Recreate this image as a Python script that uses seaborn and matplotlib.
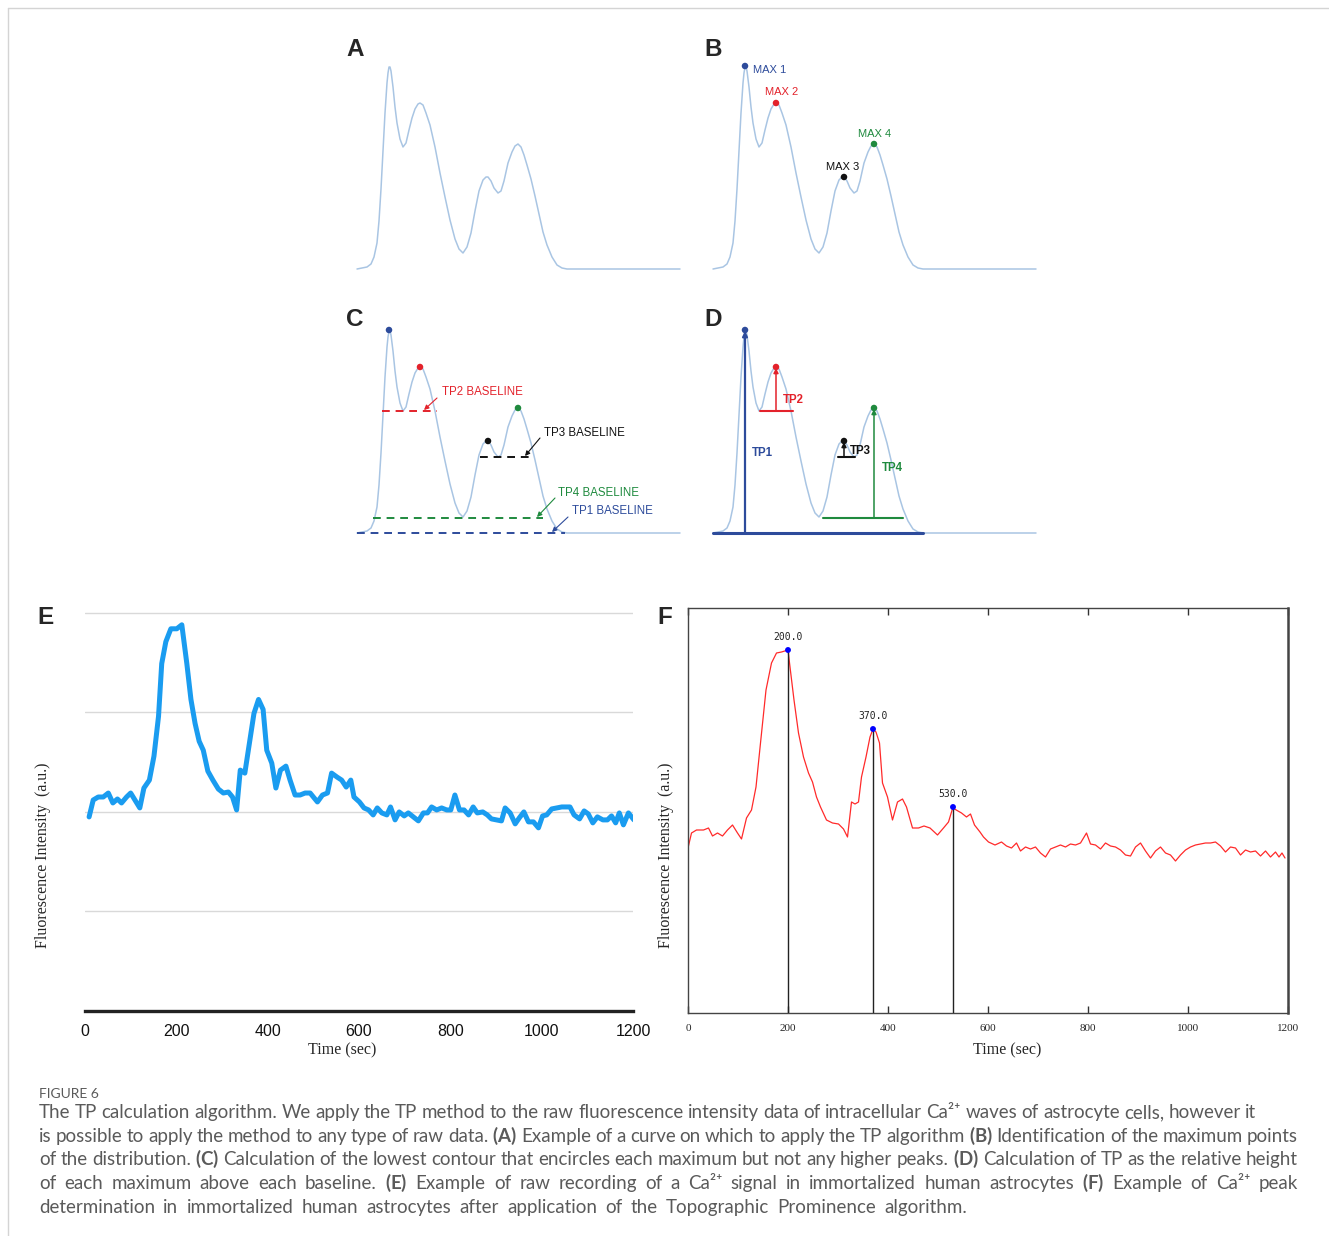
import matplotlib
matplotlib.use("Agg")
import matplotlib.pyplot as plt
from matplotlib.lines import Line2D
import seaborn as sns

# ---------------- data ----------------
# schematic curve of panels A-D (x offset and height in drawing units)
curve_x = [0, 10, 14, 17, 20, 22, 24, 26, 28, 30, 31, 32, 33, 34, 36, 38, 40, 43, 46, 49,
           52, 55, 58, 61, 63, 66, 69, 73, 78, 83, 88, 93, 98, 102, 106, 110, 114, 118, 122, 126,
           129, 131, 134, 137, 141, 144, 147, 151, 155, 158, 161, 164, 167, 170, 174, 178, 182, 186, 190, 195,
           200, 205, 210, 323]
curve_h = [0, 2, 5, 12, 26, 48, 80, 118, 156, 186, 196, 202, 202, 198, 182, 162, 146, 130, 122, 126,
           139, 151, 160, 165, 166, 164, 156, 144, 122, 96, 72, 49, 30, 20, 16, 22, 36, 58, 78, 89,
           92, 92, 88, 81, 76, 78, 88, 106, 117, 123, 125, 122, 114, 104, 90, 73, 55, 37, 24, 12,
           4, 1, 0, 0]

max_x = [32, 63, 131, 161]
max_h = [203, 166, 92, 125]
max_labels = ["MAX 1", "MAX 2", "MAX 3", "MAX 4"]
tp_labels = ["TP1", "TP2", "TP3", "TP4"]
base_labels = ["TP1 BASELINE", "TP2 BASELINE", "TP3 BASELINE", "TP4 BASELINE"]

# baselines (height, start, end) for panel C and the TP bars of panel D
base_h = [0, 122, 76, 15]
base_c_x0 = [0, 25, 123, 16]
base_c_x1 = [208, 80, 175, 186]
base_d_x0 = [0, 47, 125, 110]
base_d_x1 = [210, 80, 142, 190]

# panel E: raw recording
e_time = [9, 18, 29, 40, 51, 61, 71, 80, 91, 100, 112, 120, 129, 141, 151, 161, 168, 177, 188, 201,
          212, 223, 232, 241, 250, 259, 269, 280, 292, 303, 314, 323, 332, 340, 350, 361, 370, 380, 390, 398,
          409, 418, 428, 440, 449, 460, 471, 482, 493, 509, 520, 531, 540, 552, 562, 572, 582, 589, 601, 611,
          621, 631, 640, 650, 661, 669, 679, 688, 699, 708, 719, 730, 741, 750, 759, 770, 781, 792, 801, 810,
          820, 830, 840, 850, 859, 871, 881, 890, 901, 912, 920, 931, 942, 951, 961, 971, 982, 993, 1002, 1011,
          1022, 1033, 1044, 1055, 1062, 1071, 1083, 1093, 1102, 1112, 1122, 1134, 1144, 1153, 1162, 1170, 1179, 1190, 1202]
e_val = [1.95, 2.12, 2.15, 2.15, 2.19, 2.09, 2.13, 2.09, 2.15, 2.19, 2.10, 2.04, 2.24, 2.32, 2.56, 2.96, 3.49, 3.71, 3.84, 3.84,
         3.88, 3.49, 3.13, 2.89, 2.71, 2.62, 2.41, 2.32, 2.23, 2.19, 2.20, 2.15, 2.02, 2.42, 2.39, 2.72, 2.99, 3.13, 3.03, 2.62,
         2.49, 2.24, 2.42, 2.46, 2.32, 2.17, 2.17, 2.19, 2.19, 2.10, 2.17, 2.19, 2.39, 2.35, 2.32, 2.25, 2.32, 2.15, 2.10, 2.04,
         2.02, 1.97, 2.04, 1.99, 1.97, 2.05, 1.92, 2.00, 1.96, 1.99, 1.95, 1.91, 1.99, 1.99, 2.05, 2.02, 2.04, 2.02, 2.02, 2.17,
         2.02, 2.02, 1.97, 2.05, 1.99, 2.00, 1.97, 1.93, 1.92, 1.91, 2.04, 1.99, 1.88, 1.94, 2.00, 1.90, 1.90, 1.84, 1.96, 1.97,
         2.03, 2.04, 2.05, 2.05, 2.05, 1.97, 1.93, 2.01, 1.98, 1.89, 1.95, 1.92, 1.92, 1.96, 1.89, 1.99, 1.87, 1.99, 1.92]

# panel F: same kind of trace after peak detection
f_time = [0, 7, 17, 31, 41, 49, 59, 69, 79, 89, 99, 107, 117, 127, 136, 145, 156, 167, 177, 187,
          200, 204, 212, 221, 231, 241, 249, 257, 265, 277, 289, 301, 311, 319, 327, 334, 341, 347, 356, 364,
          370, 376, 383, 389, 399, 409, 419, 429, 437, 449, 461, 472, 484, 499, 511, 521, 530, 533, 547, 557,
          565, 573, 584, 591, 601, 614, 627, 637, 647, 657, 665, 675, 685, 695, 705, 715, 725, 735, 745, 755,
          765, 775, 785, 797, 805, 815, 825, 835, 845, 855, 865, 875, 885, 895, 905, 915, 925, 935, 945, 955,
          965, 975, 985, 995, 1005, 1015, 1025, 1035, 1045, 1055, 1065, 1075, 1085, 1095, 1105, 1115, 1125, 1135, 1145, 1155,
          1165, 1175, 1182, 1188, 1194]
f_val = [1.65, 1.80, 1.83, 1.83, 1.85, 1.77, 1.80, 1.77, 1.83, 1.88, 1.80, 1.74, 1.95, 2.03, 2.26, 2.70, 3.23, 3.50, 3.60, 3.61,
         3.63, 3.46, 3.13, 2.80, 2.56, 2.40, 2.31, 2.16, 2.06, 1.93, 1.90, 1.89, 1.84, 1.76, 2.11, 2.09, 2.11, 2.36, 2.56, 2.76,
         2.84, 2.81, 2.70, 2.30, 2.16, 1.93, 2.11, 2.14, 2.06, 1.85, 1.85, 1.87, 1.85, 1.78, 1.85, 1.91, 2.06, 2.04, 2.00, 1.96,
         1.99, 1.88, 1.81, 1.76, 1.71, 1.68, 1.71, 1.67, 1.65, 1.70, 1.62, 1.66, 1.64, 1.66, 1.60, 1.56, 1.64, 1.66, 1.68, 1.66,
         1.69, 1.68, 1.70, 1.80, 1.69, 1.68, 1.64, 1.70, 1.67, 1.66, 1.63, 1.58, 1.57, 1.66, 1.70, 1.62, 1.55, 1.62, 1.66, 1.60,
         1.58, 1.52, 1.58, 1.63, 1.66, 1.68, 1.69, 1.70, 1.70, 1.71, 1.67, 1.61, 1.66, 1.65, 1.58, 1.63, 1.61, 1.62, 1.57, 1.62,
         1.56, 1.61, 1.56, 1.60, 1.55]
peak_times = [200, 370, 530]
time_ticks = [0, 200, 400, 600, 800, 1000, 1200]

caption_head = "FIGURE 6"
caption_lines = [
    "The TP calculation algorithm. We apply the TP method to the raw fluorescence intensity data of intracellular Ca²⁺ waves of astrocyte cells, however it",
    "is possible to apply the method to any type of raw data. $\\mathbf{(A)}$ Example of a curve on which to apply the TP algorithm $\\mathbf{(B)}$ Identification of the maximum points",
    "of the distribution. $\\mathbf{(C)}$ Calculation of the lowest contour that encircles each maximum but not any higher peaks. $\\mathbf{(D)}$ Calculation of TP as the relative height",
    "of each maximum above each baseline. $\\mathbf{(E)}$ Example of raw recording of a Ca²⁺ signal in immortalized human astrocytes $\\mathbf{(F)}$ Example of Ca²⁺ peak",
    "determination in immortalized human astrocytes after application of the Topographic Prominence algorithm.",
]

# ---------------- style ----------------
sns.set_theme(style="white")
plt.rcParams["font.family"] = ["Liberation Sans", "DejaVu Sans"]
plt.rcParams["mathtext.fontset"] = "custom"
plt.rcParams["mathtext.rm"] = "Lato"
plt.rcParams["mathtext.bf"] = "Lato:bold"
plt.rcParams["mathtext.it"] = "Lato:italic"

W, H = 1329, 1236
fig = plt.figure(figsize=(W / 100, H / 100), dpi=100)
fig.patch.set_facecolor("white")

curve_col = "#a9c5e3"
tp_cols = ["#2d4b9b", "#e3222b", "#111111", "#1f8a3e"]
serif = ["Liberation Serif", "DejaVu Serif"]
lato = ["Lato", "DejaVu Sans"]


def px_axes(left, top, right, bottom):
    return fig.add_axes([left / W, 1 - bottom / H, (right - left) / W, (bottom - top) / H])


def schematic(x0, base):
    ax = px_axes(x0 - 6, base - 215, x0 + 330, base + 8)
    ax.set_xlim(-6, 330)
    ax.set_ylim(-8, 215)
    ax.axis("off")
    sns.lineplot(x=curve_x, y=curve_h, ax=ax, color=curve_col, linewidth=1.1,
                 sort=False, estimator=None)
    return ax


# frame of the figure page
fig.add_artist(Line2D([8 / W, 1], [1 - 8 / H, 1 - 8 / H], color="#d4d4d4", lw=1))
fig.add_artist(Line2D([8 / W, 8 / W], [0, 1 - 8 / H], color="#d4d4d4", lw=1))

# ---- A ----
axA = schematic(357, 269)

# ---- B ----
axB = schematic(713, 269)
sns.scatterplot(x=max_x, y=max_h, ax=axB, hue=max_labels, palette=tp_cols, s=22,
                edgecolor="none", legend=False, zorder=3)
axB.text(40, 199, max_labels[0], color=tp_cols[0], fontsize=8, ha="left", va="center")
axB.text(69, 177, max_labels[1], color=tp_cols[1], fontsize=8, ha="center", va="center")
axB.text(130, 102, max_labels[2], color=tp_cols[2], fontsize=8, ha="center", va="center")
axB.text(162, 135, max_labels[3], color=tp_cols[3], fontsize=8, ha="center", va="center")

# ---- C ----
axC = schematic(357, 533)
c_text = [(215, 22), (85, 141), (187, 100), (201, 40)]
c_arrow = [((211, 16), (195, 1)), ((80, 135), (67, 123)), ((183, 95), (168, 77)), ((198, 35), (180, 16))]
for i in range(4):
    axC.plot([base_c_x0[i], base_c_x1[i]], [base_h[i], base_h[i]], color=tp_cols[i],
             lw=1.4, ls=(0, (4, 3)), zorder=2)
    axC.text(*c_text[i], base_labels[i], color=tp_cols[i], fontsize=8.3, ha="left", va="center")
    axC.annotate("", xy=c_arrow[i][1], xytext=c_arrow[i][0],
                 arrowprops=dict(arrowstyle="-|>", color=tp_cols[i], lw=0.8,
                                 mutation_scale=7, shrinkA=0, shrinkB=0))
sns.scatterplot(x=max_x, y=max_h, ax=axC, hue=tp_labels, palette=tp_cols, s=22,
                edgecolor="none", legend=False, zorder=3)

# ---- D ----
axD = schematic(713, 533)
d_text = [(39, 80), (70, 133), (137, 82), (169, 65)]
for i in range(4):
    axD.plot([base_d_x0[i], base_d_x1[i]], [base_h[i], base_h[i]], color=tp_cols[i],
             lw=2.2 if i == 0 else 1.5, zorder=2)
    axD.annotate("", xy=(max_x[i], max_h[i] - 1), xytext=(max_x[i], base_h[i]),
                 arrowprops=dict(arrowstyle="-|>", color=tp_cols[i], lw=1.6 if i == 0 else 1.1,
                                 mutation_scale=7, shrinkA=0, shrinkB=0))
    axD.text(*d_text[i], tp_labels[i], color=tp_cols[i], fontsize=8.3, fontweight="bold",
             ha="left", va="center")
sns.scatterplot(x=max_x, y=max_h, ax=axD, hue=tp_labels, palette=tp_cols, s=22,
                edgecolor="none", legend=False, zorder=3)

# ---- E ----
axE = px_axes(85, 583, 633, 1011)
sns.lineplot(x=e_time, y=e_val, ax=axE, color="#1a9cf0", linewidth=3.6)
axE.set_xlim(0, 1200)
axE.set_ylim(0, 4.3)
axE.set_yticks([1, 2, 3, 4])
axE.yaxis.grid(True, color="#d9d9d9", lw=1)
axE.set_xticks(time_ticks)
axE.tick_params(axis="y", length=0, labelleft=False)
axE.tick_params(axis="x", length=0, pad=9, labelsize=11.5, labelcolor="#111")
for side in ["top", "left", "right"]:
    axE.spines[side].set_visible(False)
axE.spines["bottom"].set_color("#222")
axE.spines["bottom"].set_linewidth(2.4)
axE.set_xlabel("")
axE.set_ylabel("")

# ---- F ----
axF = px_axes(688, 608, 1288, 1013)
sns.lineplot(x=f_time, y=f_val, ax=axF, color="#ff2a2a", linewidth=0.9)
for t in peak_times:
    v = f_val[f_time.index(t)]
    axF.vlines(t, 0, v, color="#222", lw=1, zorder=3)
    axF.text(t, v + 0.08, f"{t:.1f}", ha="center", va="bottom", fontsize=7,
             family="DejaVu Sans Mono", color="#222")
sns.scatterplot(x=peak_times, y=[f_val[f_time.index(t)] for t in peak_times], ax=axF,
                color="#0000ff", s=18, edgecolor="none", zorder=4)
axF.set_xlim(0, 1200)
axF.set_ylim(0, 4.05)
axF.set_yticks([])
axF.set_xticks(time_ticks)
axF.tick_params(axis="x", direction="in", top=True, bottom=True, length=5, width=1,
                color="#333", labelsize=8, pad=8)
for lab in axF.get_xticklabels():
    lab.set_family(serif)
for side in axF.spines:
    axF.spines[side].set_color("#444")
    axF.spines[side].set_linewidth(1)
axF.spines["right"].set_linewidth(1.8)
axF.set_xlabel("")
axF.set_ylabel("")

# axis labels
for cx in [342, 1007]:
    fig.text(cx / W, 1 - 1050 / H, "Time (sec)", ha="center", va="center", fontsize=11.5, family=serif)
for cx in [43, 666]:
    fig.text(cx / W, 1 - 855 / H, "Fluorescence Intensity  (a.u.)", ha="center", va="center",
             fontsize=11.5, family=serif, rotation=90)

# panel letters
for letter, (x, y) in zip("ABCDEF", [(355, 50), (713, 50), (355, 320), (713, 320), (45, 618), (665, 618)]):
    fig.text(x / W, 1 - y / H, letter, ha="center", va="center", fontsize=17.5, fontweight="bold")

# ---- caption ----
cap_col = "#5a5a5a"
fig.text(39 / W, 1 - 1094 / H, caption_head, ha="left", va="center", fontsize=10,
         color=cap_col, family=lato)

renderer = fig.canvas.get_renderer()
line_ends = [1256, 1298, 1298, 1298, 967]
for k, line in enumerate(caption_lines):
    yb = 1 - (1118 + 23.7 * k) / H
    words = line.split(" ")
    objs = [fig.text(0, yb, w, ha="left", va="baseline", fontsize=13.5, color=cap_col,
                     family=lato) for w in words]
    widths = [o.get_window_extent(renderer).width for o in objs]
    gap = (line_ends[k] - 39 - sum(widths)) / (len(words) - 1)
    x = 39
    for o, w in zip(objs, widths):
        o.set_x(x / W)
        x += w + gap

fig.savefig("out.png", dpi=100, facecolor="white")
